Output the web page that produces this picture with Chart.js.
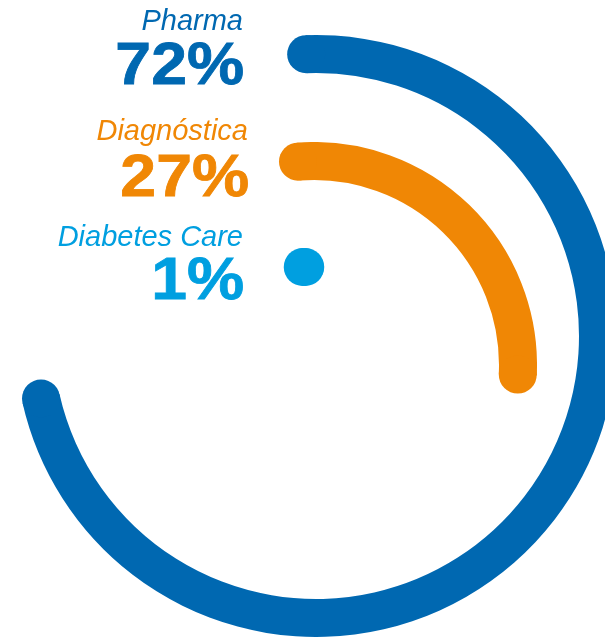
<!DOCTYPE html>
<html>
<head>
<meta charset="utf-8">
<script src="https://cdn.jsdelivr.net/npm/chart.js@4.4.1/dist/chart.umd.min.js"></script>
<style>
  html, body { margin: 0; padding: 0; width: 605px; height: 638px; overflow: hidden; background: #fff; }
  canvas { position: absolute; }
  .lbl { position: absolute; right: 362px; text-align: right; white-space: nowrap;
         font-family: "Liberation Sans", Arial, sans-serif; line-height: 1; }
  .name { font-style: italic; font-size: 29px; }
  .pct { font-weight: bold; font-size: 59px; letter-spacing: 0px;
         transform: scaleX(1.09); transform-origin: right center;
         -webkit-text-stroke: 0.8px currentColor; }
</style>
</head>
<body>
<canvas id="c0" width="602" height="602" style="left:15px; top:35px;"></canvas>
<canvas id="c1" width="446" height="446" style="left:91px; top:142px;"></canvas>
<canvas id="c2" width="118" height="118" style="left:245px; top:248px;"></canvas>
<div id="labels"></div>
<script>
// ---- data ----
const categories = ['Pharma', 'Diagnóstica', 'Diabetes Care'];
const shares = [72, 27, 1];
const shareLabels = ['72%', '27%', '1%'];
const colors = ['#0068B1', '#F08705', '#009FE0'];

// ---- layout / style (not data) ----
const ringThickness = 38;
const rotations = [-2, -4.5, -1.8];
const nameTops = [5.5, 115.5, 221.5];
const pctTops = [35, 147, 250];
const rightEdges = [362, 357, 362];

// round caps at both ends of the value arc, using the arc element geometry
const roundCaps = {
  id: 'roundCaps',
  afterDatasetsDraw(chart) {
    const arc = chart.getDatasetMeta(0).data[0];
    if (!arc) return;
    const p = arc.getProps(['x', 'y', 'startAngle', 'endAngle', 'innerRadius', 'outerRadius'], true);
    const mid = (p.innerRadius + p.outerRadius) / 2;
    const half = (p.outerRadius - p.innerRadius) / 2;
    const ctx = chart.ctx;
    ctx.save();
    ctx.fillStyle = arc.options.backgroundColor;
    [p.startAngle, p.endAngle].forEach(a => {
      ctx.beginPath();
      ctx.arc(p.x + mid * Math.cos(a), p.y + mid * Math.sin(a), half, 0, Math.PI * 2);
      ctx.fill();
    });
    ctx.restore();
  }
};

categories.forEach((cat, i) => {
  const cv = document.getElementById('c' + i);
  const size = cv.width;
  new Chart(cv, {
    type: 'doughnut',
    data: {
      labels: [cat, ''],
      datasets: [{
        data: [shares[i], 100 - shares[i]],
        backgroundColor: [colors[i], 'rgba(0,0,0,0)'],
        borderWidth: 0,
        hoverOffset: 0
      }]
    },
    options: {
      responsive: false,
      animation: false,
      rotation: rotations[i],
      circumference: 360,
      cutout: size / 2 - ringThickness,
      layout: { padding: 0 },
      plugins: { legend: { display: false }, tooltip: { enabled: false } },
      events: []
    },
    plugins: [roundCaps]
  });

  const holder = document.getElementById('labels');
  const n = document.createElement('div');
  n.className = 'lbl name';
  n.style.top = nameTops[i] + 'px';
  n.style.right = rightEdges[i] + 'px';
  n.style.color = colors[i];
  n.textContent = cat;
  holder.appendChild(n);
  const v = document.createElement('div');
  v.className = 'lbl pct';
  v.style.top = pctTops[i] + 'px';
  v.style.right = (rightEdges[i] - 1) + 'px';
  v.style.color = colors[i];
  v.textContent = shareLabels[i];
  holder.appendChild(v);
});
</script>
</body>
</html>
